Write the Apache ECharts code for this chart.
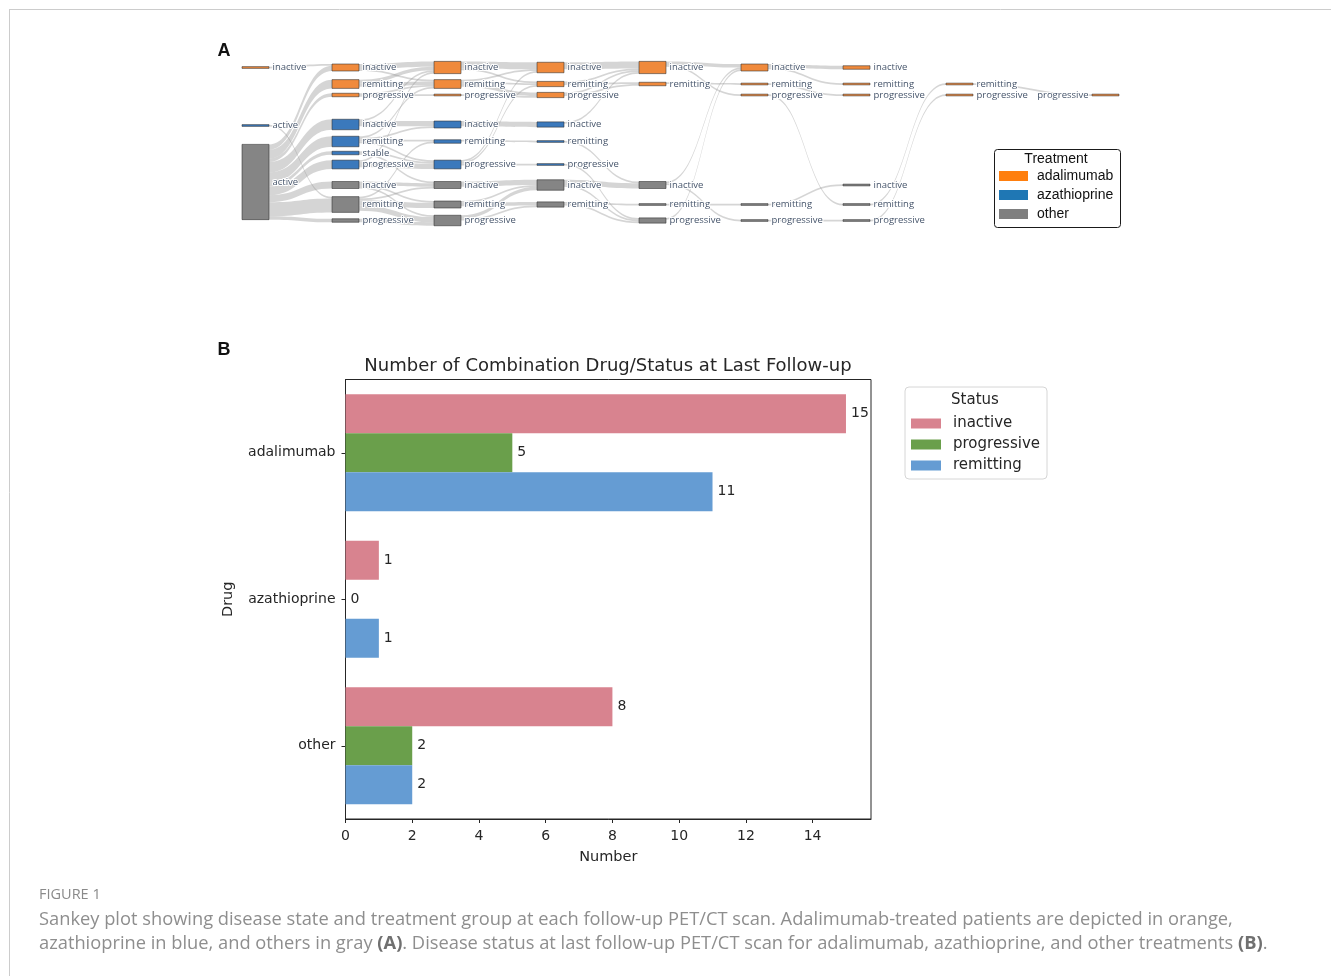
<!DOCTYPE html>
<html>
<head>
<meta charset="utf-8">
<title>Figure 1</title>
<script src="https://cdn.jsdelivr.net/npm/echarts@6.0.0/dist/echarts.min.js"></script>
<style>
  html, body { margin: 0; padding: 0; background: #ffffff; }
  #chart { width: 1331px; height: 976px; }
</style>
</head>
<body>
<div id="chart"></div>
<script>
// ---------- Panel A: disease state and treatment at each PET/CT scan ----------
const ADA = 'adalimumab';
const AZA = 'azathioprine';
const OTH = 'other';
const treatments = [ADA, AZA, OTH];

// Patient transitions between consecutive scans:
// [scan, treatment, status, next treatment, next status, patients]
const scanTransitions = [
  [0, ADA, 'inactive', ADA, 'inactive', 1],
  [0, AZA, 'active', OTH, 'remitting', 1],
  [0, OTH, 'active', ADA, 'inactive', 3],
  [0, OTH, 'active', ADA, 'remitting', 5],
  [0, OTH, 'active', ADA, 'progressive', 2],
  [0, OTH, 'active', AZA, 'inactive', 6],
  [0, OTH, 'active', AZA, 'remitting', 6],
  [0, OTH, 'active', AZA, 'stable', 2],
  [0, OTH, 'active', AZA, 'progressive', 5],
  [0, OTH, 'active', OTH, 'inactive', 4],
  [0, OTH, 'active', OTH, 'remitting', 8],
  [0, OTH, 'active', OTH, 'progressive', 2],

  [1, ADA, 'inactive', ADA, 'inactive', 3],
  [1, ADA, 'inactive', ADA, 'remitting', 1],
  [1, ADA, 'remitting', ADA, 'inactive', 2],
  [1, ADA, 'remitting', ADA, 'remitting', 2],
  [1, ADA, 'progressive', ADA, 'remitting', 1],
  [1, ADA, 'progressive', ADA, 'progressive', 1],
  [1, AZA, 'inactive', AZA, 'inactive', 3],
  [1, AZA, 'inactive', ADA, 'inactive', 1],
  [1, AZA, 'remitting', ADA, 'remitting', 1],
  [1, AZA, 'remitting', AZA, 'inactive', 1],
  [1, AZA, 'remitting', AZA, 'remitting', 1],
  [1, AZA, 'remitting', AZA, 'progressive', 1],
  [1, AZA, 'stable', AZA, 'progressive', 1],
  [1, AZA, 'stable', OTH, 'inactive', 1],
  [1, AZA, 'progressive', ADA, 'inactive', 1],
  [1, AZA, 'progressive', AZA, 'progressive', 3],
  [1, OTH, 'inactive', OTH, 'inactive', 2],
  [1, OTH, 'inactive', OTH, 'remitting', 1],
  [1, OTH, 'inactive', OTH, 'progressive', 1],
  [1, OTH, 'remitting', AZA, 'remitting', 1],
  [1, OTH, 'remitting', OTH, 'inactive', 1],
  [1, OTH, 'remitting', OTH, 'remitting', 3],
  [1, OTH, 'remitting', OTH, 'progressive', 3],
  [1, OTH, 'progressive', OTH, 'progressive', 2],

  [2, ADA, 'inactive', ADA, 'inactive', 4],
  [2, ADA, 'inactive', ADA, 'remitting', 1],
  [2, ADA, 'remitting', ADA, 'inactive', 1],
  [2, ADA, 'remitting', ADA, 'remitting', 1],
  [2, ADA, 'remitting', ADA, 'progressive', 2],
  [2, ADA, 'progressive', ADA, 'progressive', 1],
  [2, AZA, 'inactive', AZA, 'inactive', 3],
  [2, AZA, 'remitting', AZA, 'remitting', 1],
  [2, AZA, 'progressive', ADA, 'inactive', 1],
  [2, AZA, 'progressive', ADA, 'remitting', 1],
  [2, AZA, 'progressive', AZA, 'progressive', 1],
  [2, OTH, 'inactive', OTH, 'inactive', 3],
  [2, OTH, 'remitting', OTH, 'inactive', 1],
  [2, OTH, 'remitting', OTH, 'remitting', 2],
  [2, OTH, 'progressive', OTH, 'inactive', 2],
  [2, OTH, 'progressive', OTH, 'remitting', 1],

  [3, ADA, 'inactive', ADA, 'inactive', 4],
  [3, ADA, 'remitting', ADA, 'inactive', 1],
  [3, ADA, 'remitting', ADA, 'remitting', 1],
  [3, ADA, 'progressive', ADA, 'inactive', 1],
  [3, ADA, 'progressive', ADA, 'remitting', 1],
  [3, AZA, 'inactive', ADA, 'inactive', 1],
  [3, AZA, 'remitting', OTH, 'inactive', 1],
  [3, AZA, 'progressive', OTH, 'progressive', 1],
  [3, OTH, 'inactive', OTH, 'inactive', 3],
  [3, OTH, 'inactive', OTH, 'progressive', 1],
  [3, OTH, 'remitting', OTH, 'remitting', 1],
  [3, OTH, 'remitting', OTH, 'progressive', 1],

  [4, ADA, 'inactive', ADA, 'inactive', 2],
  [4, ADA, 'inactive', ADA, 'progressive', 1],
  [4, ADA, 'remitting', ADA, 'remitting', 1],
  [4, OTH, 'inactive', ADA, 'inactive', 1],
  [4, OTH, 'inactive', OTH, 'progressive', 1],
  [4, OTH, 'remitting', OTH, 'remitting', 1],
  [4, OTH, 'progressive', ADA, 'inactive', 1],

  [5, ADA, 'inactive', ADA, 'inactive', 2],
  [5, ADA, 'inactive', ADA, 'remitting', 1],
  [5, ADA, 'remitting', ADA, 'progressive', 1],
  [5, ADA, 'progressive', OTH, 'remitting', 1],
  [5, OTH, 'remitting', OTH, 'inactive', 1],
  [5, OTH, 'progressive', OTH, 'progressive', 1],

  [6, OTH, 'remitting', ADA, 'remitting', 1],
  [6, OTH, 'progressive', ADA, 'progressive', 1],

  [7, ADA, 'remitting', ADA, 'progressive', 1]
];

// ---------- Panel B: status at last follow-up ----------
const drugs = ['adalimumab', 'azathioprine', 'other'];
const statuses = ['inactive', 'progressive', 'remitting'];
const inactiveCounts = [15, 1, 8];
const progressiveCounts = [5, 0, 2];
const remittingCounts = [11, 1, 2];
const statusCounts = [inactiveCounts, progressiveCounts, remittingCounts];
const numberTicks = [0, 2, 4, 6, 8, 10, 12, 14];

// ---------- layout and styling ----------
const CANVAS_W = 1331;
const CANVAS_H = 976;
const scanColumnX = [242, 332, 434, 537, 639, 741, 843, 946, 1092];
const stateRowY = {
  'adalimumab|inactive': 67.5,
  'adalimumab|remitting': 84,
  'adalimumab|progressive': 95,
  'azathioprine|inactive': 124.5,
  'azathioprine|active': 125.5,
  'azathioprine|remitting': 141.5,
  'azathioprine|stable': 153,
  'azathioprine|progressive': 164.5,
  'other|active': 182,
  'other|inactive': 185,
  'other|remitting': 204.5,
  'other|progressive': 220.5
};
const PATIENT_PX = 1.75;
const NODE_W = 27;
const nodeColor = { adalimumab: '#f08a3c', azathioprine: '#3b79bc', other: '#858585' };
const swatchColor = { adalimumab: '#ff7f0e', azathioprine: '#1f77b4', other: '#7f7f7f' };
const statusColor = { inactive: '#d8838f', progressive: '#6a9f4b', remitting: '#659cd3' };
const INK = '#262626';
const PLOT_FONT = 'DejaVu Sans';
const LEGEND_A_FONT = 'Liberation Sans';

// Build sankey nodes from the transitions
const nodeInfo = new Map();
function nodeKey(scan, t, s) { return scan + '|' + t + '|' + s; }
function touch(scan, t, s) {
  const k = nodeKey(scan, t, s);
  if (!nodeInfo.has(k)) nodeInfo.set(k, { key: k, scan: scan, treatment: t, status: s, inSum: 0, outSum: 0 });
  return nodeInfo.get(k);
}
const sankeyLinks = scanTransitions.map(function (tr) {
  const a = touch(tr[0], tr[1], tr[2]);
  const b = touch(tr[0] + 1, tr[3], tr[4]);
  a.outSum += tr[5];
  b.inSum += tr[5];
  return { source: a.key, target: b.key, value: tr[5] };
});
function rowOf(nd) { return stateRowY[nd.treatment + '|' + nd.status]; }
const nodeList = Array.from(nodeInfo.values()).sort(function (a, b) {
  return a.scan - b.scan || rowOf(a) - rowOf(b);
});
nodeList.forEach(function (nd) { nd.value = Math.max(nd.inSum, nd.outSum); });

// The library scales node height by the fullest column; pick the gap so one patient is PATIENT_PX tall
const columns = {};
nodeList.forEach(function (nd) {
  const c = columns[nd.scan] || (columns[nd.scan] = { n: 0, sum: 0 });
  c.n += 1; c.sum += nd.value;
});
let nodeGap = Infinity;
Object.keys(columns).forEach(function (k) {
  const c = columns[k];
  if (c.n > 1) nodeGap = Math.min(nodeGap, (CANVAS_H - PATIENT_PX * c.sum) / (c.n - 1));
});

const lastScan = scanColumnX.length - 1;
const sankeyNodes = nodeList.map(function (nd) {
  const h = nd.value * PATIENT_PX;
  const item = {
    name: nd.key,
    depth: nd.scan,
    localX: scanColumnX[nd.scan] / CANVAS_W,
    localY: (rowOf(nd) - h / 2) / CANVAS_H,
    itemStyle: { color: nodeColor[nd.treatment] }
  };
  if (nd.scan === lastScan) item.label = { position: 'left' };
  return item;
});

// ---------- text helpers ----------
function textEl(x, y, text, style) {
  return {
    type: 'text', x: x, y: y, silent: true, z: 50,
    style: Object.assign({
      text: text, fill: INK,
      textAlign: 'left', align: 'left',
      textVerticalAlign: 'middle', verticalAlign: 'middle'
    }, style || {})
  };
}
function centered(style) { return Object.assign({ textAlign: 'center', align: 'center' }, style); }

const treatmentLegend = [
  { type: 'rect', shape: { x: 994.5, y: 149.5, width: 126, height: 78, r: 3 },
    style: { fill: '#fff', stroke: '#1a1a1a', lineWidth: 1 }, silent: true },
  textEl(1056, 159.5, 'Treatment', centered({ fontSize: 14, fontFamily: LEGEND_A_FONT, fill: '#111' }))
];
treatments.forEach(function (t, i) {
  const cy = 176 + i * 19;
  treatmentLegend.push({ type: 'rect', shape: { x: 999, y: cy - 5, width: 29, height: 10 },
    style: { fill: swatchColor[t] }, silent: true });
  treatmentLegend.push(textEl(1037, cy, t, { fontSize: 14, fontFamily: LEGEND_A_FONT, fill: '#111' }));
});

const CAPTION_FONT = 'Open Sans';
const CAPTION_SIZE = 18.3;
const captionRich = { b: { fontWeight: 'bold', fill: '#707070', fontSize: CAPTION_SIZE, fontFamily: CAPTION_FONT } };

const chart = echarts.init(document.getElementById('chart'), null, { renderer: 'canvas' });
chart.setOption({
  animation: false,
  backgroundColor: '#ffffff',
  graphic: {
    elements: [
      { type: 'line', shape: { x1: 9, y1: 9.5, x2: CANVAS_W, y2: 9.5 }, style: { stroke: '#cccccc', lineWidth: 1 }, silent: true },
      { type: 'line', shape: { x1: 9.5, y1: 9, x2: 9.5, y2: CANVAS_H }, style: { stroke: '#cccccc', lineWidth: 1 }, silent: true },
      textEl(224, 51.5, 'A', centered({ fontSize: 18, fontWeight: 'bold', fontFamily: 'Liberation Sans', fill: '#111' })),
      textEl(224, 350.5, 'B', centered({ fontSize: 18, fontWeight: 'bold', fontFamily: 'Liberation Sans', fill: '#111' })),
      textEl(608, 366, 'Number of Combination Drug/Status at Last Follow-up', centered({ fontSize: 18, fontFamily: PLOT_FONT })),
      textEl(975, 400, 'Status', centered({ fontSize: 15, fontFamily: PLOT_FONT })),
      { type: 'group', children: treatmentLegend },
      textEl(39, 895, 'FIGURE 1', { fontSize: 14.5, fontFamily: CAPTION_FONT, fill: '#8a8a8a' }),
      textEl(39, 919.5, 'Sankey plot showing disease state and treatment group at each follow-up PET/CT scan. Adalimumab-treated patients are depicted in orange,',
        { fontSize: CAPTION_SIZE, fontFamily: CAPTION_FONT, fill: '#8e8e8e' }),
      textEl(39, 943.5, 'azathioprine in blue, and others in gray {b|(A)}. Disease status at last follow-up PET/CT scan for adalimumab, azathioprine, and other treatments {b|(B)}.',
        { fontSize: CAPTION_SIZE, fontFamily: CAPTION_FONT, fill: '#8e8e8e', rich: captionRich })
    ]
  },
  legend: {
    data: statuses,
    orient: 'vertical',
    left: 905, top: 387,
    itemWidth: 30, itemHeight: 10, itemGap: 6,
    icon: 'rect',
    padding: [29, 7, 6, 6],
    borderColor: '#d6d6d6', borderWidth: 1, borderRadius: 4,
    selectedMode: false,
    textStyle: { fontSize: 15, color: INK, fontFamily: PLOT_FONT, padding: [0, 0, 0, 7] }
  },
  grid: {
    left: 345.5, top: 379.5, width: 525.5, height: 439.5,
    show: true, borderColor: INK, borderWidth: 1, backgroundColor: 'transparent',
    containLabel: false
  },
  xAxis: {
    type: 'value', min: 0, max: 15.75, interval: 2,
    name: 'Number', nameLocation: 'middle', nameGap: 31,
    nameTextStyle: { fontSize: 14.5, color: INK, fontFamily: PLOT_FONT },
    axisLine: { show: true, lineStyle: { color: INK, width: 1 } },
    axisTick: { show: true, length: 4, lineStyle: { color: INK }, customValues: numberTicks },
    axisLabel: { fontSize: 14, color: INK, fontFamily: PLOT_FONT, margin: 10, customValues: numberTicks },
    splitLine: { show: false }
  },
  yAxis: {
    type: 'category', inverse: true, data: drugs,
    name: 'Drug', nameLocation: 'middle', nameGap: 110, nameRotate: 90,
    nameTextStyle: { fontSize: 14.5, color: INK, fontFamily: PLOT_FONT },
    axisLine: { show: true, lineStyle: { color: INK, width: 1 } },
    axisTick: { show: true, alignWithLabel: true, length: 4, lineStyle: { color: INK } },
    axisLabel: { fontSize: 14, color: INK, fontFamily: PLOT_FONT, margin: 10 },
    splitLine: { show: false }
  },
  series: statuses.map(function (s, i) {
    return {
      type: 'bar', name: s, data: statusCounts[i],
      barGap: '0%', barCategoryGap: '20%',
      itemStyle: { color: statusColor[s] },
      label: { show: true, position: 'right', distance: 5, fontSize: 14, color: INK, fontFamily: PLOT_FONT },
      emphasis: { disabled: true }
    };
  }).concat([{
    type: 'sankey',
    left: 0, top: 0, width: CANVAS_W, height: CANVAS_H,
    nodeWidth: NODE_W, nodeGap: nodeGap, nodeAlign: 'left',
    layoutIterations: 0, draggable: false,
    emphasis: { disabled: true },
    data: sankeyNodes,
    links: sankeyLinks,
    itemStyle: { borderColor: 'rgba(45,45,45,0.55)', borderWidth: 1 },
    lineStyle: { color: '#9a9a9a', opacity: 0.42, curveness: 0.5 },
    label: {
      show: true, position: 'right', distance: 3,
      fontSize: 9.5, fontFamily: 'Open Sans', color: '#46556b',
      textBorderColor: '#ffffff', textBorderWidth: 2,
      formatter: function (p) { return p.name.split('|')[2]; }
    }
  }])
});
</script>
</body>
</html>
